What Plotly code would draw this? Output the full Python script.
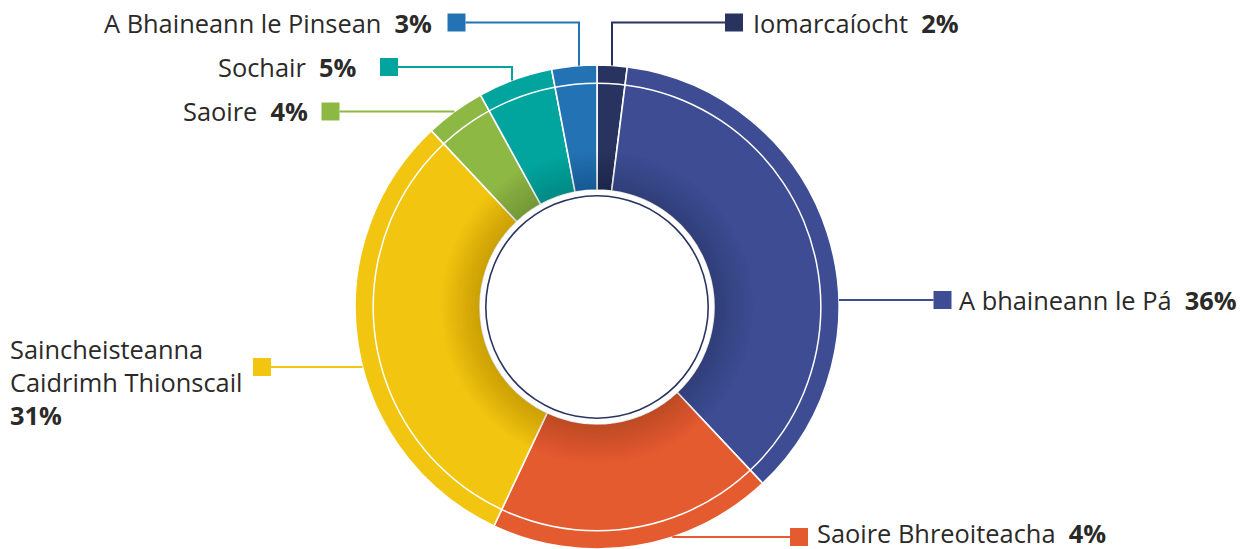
import math
import plotly.graph_objects as go

# ---------------- data ----------------
categories = ["Iomarcaíocht", "A bhaineann le Pá", "Saoire Bhreoiteacha",
              "Saincheisteanna<br>Caidrimh Thionscail", "Saoire", "Sochair",
              "A Bhaineann le Pinsean"]
values = [2, 36, 19, 31, 4, 5, 3]
pct_labels = ["2%", "36%", "4%", "31%", "4%", "5%", "3%"]
colors = ["#29335F", "#3D4C93", "#E55B30", "#F2C511", "#8DB843", "#02A59E", "#2373B4"]

# ---------------- geometry (pixels) ----------------
W, H = 1250, 549
CX, CY, R = 597, 307, 242
R_HOLE = 117
TEXT_COLOR = "#2B2A29"
FONT = "Open Sans"
FSIZE = 25.4


def px(x):
    return x / W


def py(y):
    return 1 - y / H


def domain(r):
    return dict(x=[px(CX - r), px(CX + r)], y=[max(0, py(CY + r)), min(1, py(CY - r))])


def rim_x(y, side):
    return CX + side * math.sqrt(R ** 2 - (y - CY) ** 2)


def rim_y(x):
    return CY - math.sqrt(R ** 2 - (x - CX) ** 2)


fig = go.Figure()

# main donut
fig.add_trace(go.Pie(
    values=values, labels=categories, sort=False, direction="clockwise", rotation=0,
    hole=R_HOLE / R, domain=domain(R),
    marker=dict(colors=colors, line=dict(color="white", width=1.6)),
    textinfo="none", hoverinfo="label+value", showlegend=False,
))

# inner shadow (stacked translucent rings)
for k in range(13):
    r = R_HOLE + 3 + k * 3
    fig.add_trace(go.Pie(
        values=[1], sort=False, hole=R_HOLE / r, domain=domain(r),
        marker=dict(colors=["rgba(0,0,0,0.012)"], line=dict(width=0)),
        textinfo="none", hoverinfo="skip", showlegend=False,
    ))

# thin white ring near outer edge
r_ring = 224.6
fig.add_trace(go.Pie(
    values=[1], sort=False, hole=(r_ring - 1.5) / r_ring, domain=domain(r_ring),
    marker=dict(colors=["white"], line=dict(width=0)),
    textinfo="none", hoverinfo="skip", showlegend=False,
))

# navy circle inside the hole
r_nav = 112
fig.add_trace(go.Pie(
    values=[1], sort=False, hole=(r_nav - 1.6) / r_nav, domain=domain(r_nav),
    marker=dict(colors=["#2A3560"], line=dict(width=0)),
    textinfo="none", hoverinfo="skip", showlegend=False,
))

# ---------------- labels & leaders ----------------
SQ = 18
label_layout = [
    dict(sq=(734, 22.5), side="right", tx=752, leader=("down", 612)),
    dict(sq=(942.5, 300), side="right", tx=958, leader=("horiz", 1)),
    dict(sq=(799, 537), side="right", tx=816, ty=533, leader=("horiz", 1)),
    dict(sq=(262, 367), side="block", tx=8, ty=382, leader=("horiz", -1)),
    dict(sq=(330.5, 111.5), side="left", tx=309, leader=("horiz", -1)),
    dict(sq=(389, 67), side="left", tx=358, leader=("down", 512)),
    dict(sq=(456.5, 22.5), side="left", tx=433, leader=("down", 579)),
]

shapes = []
annotations = []
for cat, pct, col, lay in zip(categories, pct_labels, colors, label_layout):
    sx, sy = lay["sq"]
    ty = lay.get("ty", sy)
    kind, p = lay["leader"]
    edge_x = sx - SQ / 2 if lay["side"] == "right" else sx + SQ / 2
    if kind == "down":
        x0 = p
        y_end = rim_y(x0)
        path = f"M {px(edge_x)} {py(sy)} L {px(x0)} {py(sy)} L {px(x0)} {py(y_end)}"
    else:
        xr = rim_x(sy, p)
        path = f"M {px(edge_x)} {py(sy)} L {px(xr)} {py(sy)}"
    shapes.append(dict(type="path", path=path, xref="paper", yref="paper",
                       line=dict(color=col, width=2)))
    shapes.append(dict(type="rect", xref="paper", yref="paper",
                       x0=px(sx - SQ / 2), x1=px(sx + SQ / 2),
                       y0=py(sy + SQ / 2), y1=py(sy - SQ / 2),
                       fillcolor=col, line=dict(width=0)))
    if lay["side"] == "block":
        annotations.append(dict(
            text=f"{cat}<br><b>{pct}</b>", x=px(lay["tx"]), y=py(ty),
            xref="paper", yref="paper", xanchor="left", yanchor="middle",
            align="left", showarrow=False,
            font=dict(family=FONT, size=FSIZE, color=TEXT_COLOR)))
    else:
        annotations.append(dict(
            text=f"{cat}\u00a0\u00a0<b>{pct}</b>", x=px(lay["tx"]), y=py(ty),
            xref="paper", yref="paper",
            xanchor="left" if lay["side"] == "right" else "right",
            yanchor="middle", showarrow=False, borderpad=0,
            font=dict(family=FONT, size=FSIZE, color=TEXT_COLOR)))

fig.update_layout(
    width=W, height=H,
    margin=dict(l=0, r=0, t=0, b=0),
    paper_bgcolor="white", plot_bgcolor="white",
    shapes=shapes, annotations=annotations,
    showlegend=False,
    font=dict(family=FONT),
)

fig.write_html("out.html", config={"displayModeBar": False},
               post_script="document.body.style.margin='0';document.body.style.overflow='hidden';")
